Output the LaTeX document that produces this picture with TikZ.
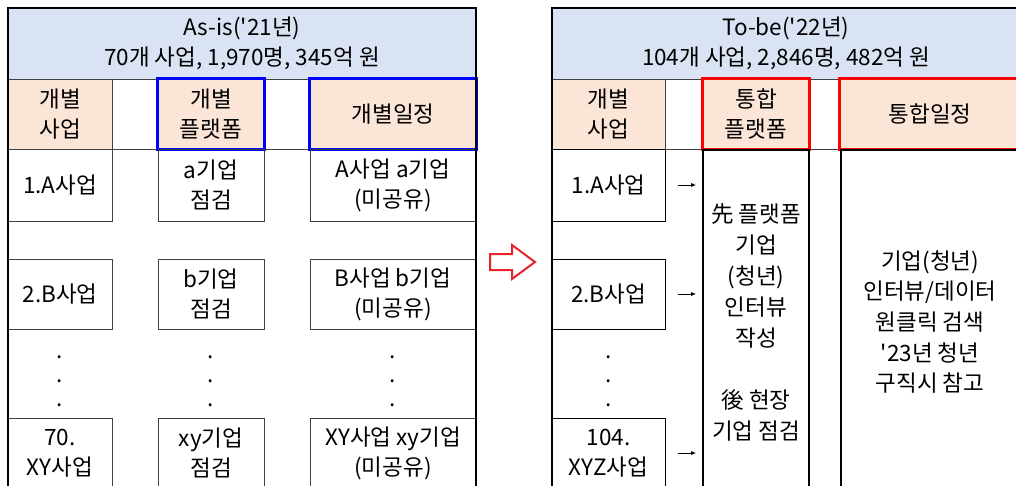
\documentclass[tikz,border=0pt]{standalone}
\usepackage{fontspec}
\setmainfont{Noto Sans CJK KR}
\usetikzlibrary{arrows.meta}
\definecolor{hdblue}{RGB}{218,227,243}
\definecolor{hdorange}{RGB}{251,229,214}
\definecolor{arwred}{RGB}{232,36,42}
\newcommand{\arw}{-{Latex[length=5pt,width=4pt]}}
\newcommand{\q}{\textquotesingle}

\begin{document}
\begin{tikzpicture}[x=1pt,y=-1pt,
  every node/.style={font=\fontsize{22.5}{30}\selectfont, align=center, inner sep=0pt},
  cell/.style={draw=black!75, line width=1pt, minimum height=70},
  hcell/.style={cell, fill=hdorange},
  ecell/.style={cell, fill=white},
  hdr/.style={fill=hdblue, minimum width=468, minimum height=70},
  tblframe/.style={line width=2.6pt, line cap=rect},
  bluebox/.style={draw=blue, line width=3pt},
  redbox/.style={draw=red, line width=3pt},
  dots/.style={font=\fontsize{22.5}{24}\selectfont}]
\useasboundingbox (0,0) rectangle (1016,485);
\clip (0,0) rectangle (1016,485);

%as-is
\node[hdr] (lt) at (242,43.5) {As-is(\q21년)\\70개 사업, 1,970명, 345억 원};
\node[hcell, minimum width=104] (lh1) at (60,114) {개별\\사업};
\node[ecell, minimum width=46] (lh2) at (135,114) {};
\node[hcell, minimum width=106] (lh3) at (211,114) {개별\\플랫폼};
\node[ecell, minimum width=46] (lh4) at (287,114) {};
\node[hcell, minimum width=166] (lh5) at (393,114) {개별일정};
\draw[bluebox] (lh3.north west) rectangle (lh3.south east);
\draw[bluebox] (lh5.north west) rectangle (lh5.south east);

\node[cell, minimum width=104, minimum height=72] (la1) at (60,185) {1.A사업};
\node[cell, minimum width=106, minimum height=72] (lp1) at (211,185) {a기업\\점검};
\node[cell, minimum width=166, minimum height=72] (ls1) at (393,185) {A사업 a기업\\(미공유)};
\node[cell, minimum width=104] (la2) at (60,294) {2.B사업};
\node[cell, minimum width=106] (lp2) at (211,294) {b기업\\점검};
\node[cell, minimum width=166] (ls2) at (393,294) {B사업 b기업\\(미공유)};
\node[dots] (ld1) at (60,381) {.\\.\\.};
\node[dots] (ld2) at (211,381) {.\\.\\.};
\node[dots] (ld3) at (393,381) {.\\.\\.};
\node[cell, minimum width=104] (la3) at (60,453) {70.\\XY사업};
\node[cell, minimum width=106] (lp3) at (211,453) {xy기업\\점검};
\node[cell, minimum width=166] (ls3) at (393,453) {XY사업 xy기업\\(미공유)};
\draw[tblframe] (8,500) |- (476,8) -- (476,500);

%change
\draw[arwred, line width=2pt, fill=white] (490,254) -- (512,254) -- (512,245) -- (535,262)
  -- (512,279) -- (512,270) -- (490,270) -- cycle;

%to-be
\node[hdr] (rt) at (786,43.5) {To-be(\q22년)\\104개 사업, 2,846명, 482억 원};
\node[hcell, minimum width=113] (rh1) at (608.5,114) {개별\\사업};
\node[ecell, minimum width=38] (rh2) at (684,114) {};
\node[hcell, minimum width=106] (rh3) at (756,114) {통합\\플랫폼};
\node[ecell, minimum width=31] (rh4) at (824.5,114) {};
\node[hcell, minimum width=180] (rh5) at (930,114) {통합일정};
\draw[redbox] (rh3.north west) rectangle (rh3.south east);
\draw[redbox] (rh5.north west) rectangle (rh5.south east);

\node[draw, line width=1.6pt, minimum width=106, minimum height=360, anchor=north] (rplat) at (756,149) {};
\node[draw, line width=1.6pt, minimum width=200, minimum height=360, anchor=north west] (rsch) at (840,149) {};
\node[cell, draw=black, minimum width=113, minimum height=72] (ra1) at (608.5,185) {1.A사업};
\node[cell, draw=black, minimum width=113] (ra2) at (608.5,294) {2.B사업};
\node[dots] (rd1) at (608.5,381) {.\\.\\.};
\node[cell, draw=black, minimum width=113] (ra3) at (608.5,453) {104.\\XYZ사업};
\node[font=\fontsize{22.5}{31}\selectfont] (rpt) at (756,322) {先 플랫폼\\기업\\(청년)\\인터뷰\\작성\\[31pt]後 현장\\기업 점검};
\node[font=\fontsize{22.5}{30.6}\selectfont] (rst) at (930,322) {기업(청년)\\인터뷰/데이터\\원클릭 검색\\\q23년 청년\\구직시 참고};
\draw[\arw, line width=1pt, shorten <=12pt, shorten >=6pt] (ra1.east) -- (ra1.east -| rplat.west);
\draw[\arw, line width=1pt, shorten <=12pt, shorten >=6pt] (ra2.east) -- (ra2.east -| rplat.west);
\draw[\arw, line width=1pt, shorten <=12pt, shorten >=6pt] (ra3.east) -- (ra3.east -| rplat.west);
\draw[tblframe] (552,500) |- (1030,8);
\end{tikzpicture}
\end{document}
